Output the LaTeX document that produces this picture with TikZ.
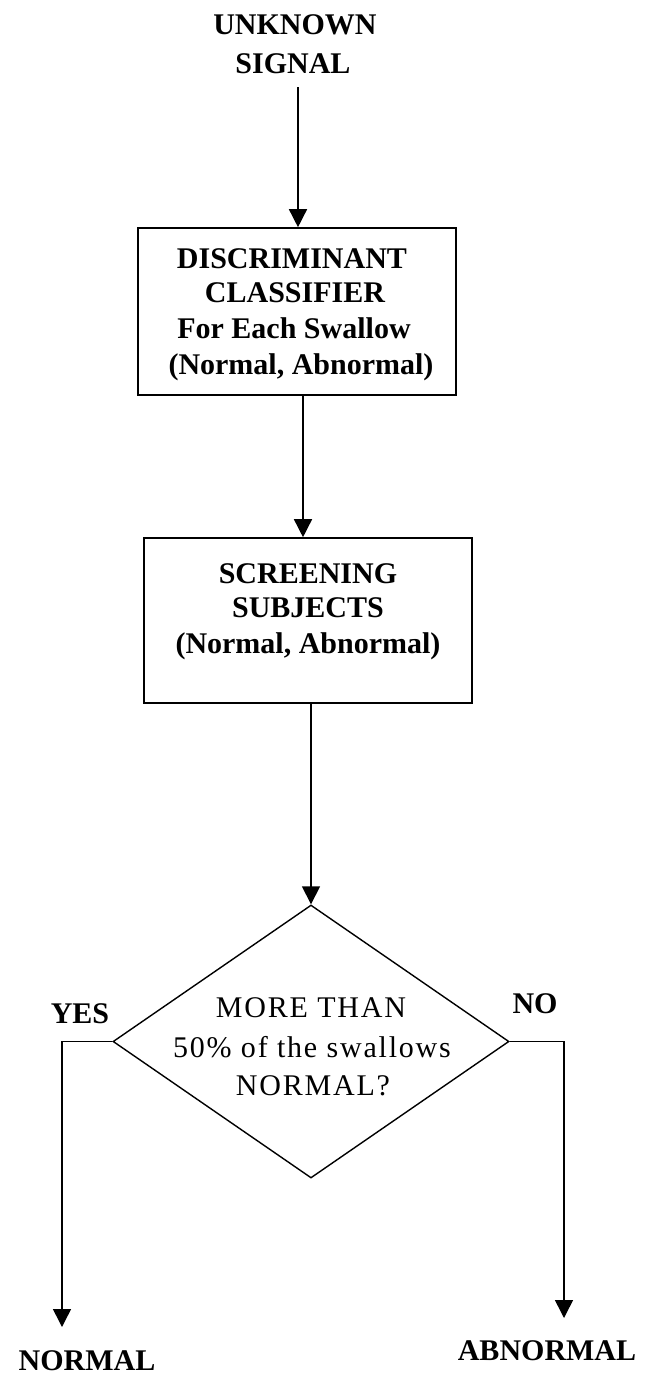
\documentclass[tikz,border=0pt]{standalone}
\usepackage{fontspec}
\setmainfont{Liberation Serif}
\usetikzlibrary{arrows.meta,shapes.geometric}
\begin{document}
\begin{tikzpicture}[x=1pt,y=-1pt,
  box/.style={draw, line width=1.6pt, rectangle, inner sep=0pt},
  bt/.style={font=\fontsize{30}{36}\selectfont\bfseries, anchor=base, inner sep=0pt},
  dt/.style={font=\fontsize{30}{36}\selectfont\addfontfeatures{LetterSpace=6}, anchor=base, inner sep=0pt},
  arr/.style={line width=1.5pt, -{Triangle[width=18pt,length=18pt]}}]
\useasboundingbox (0,0) rectangle (647,1374);
% top label
\node[bt] (t1) at (295,34) {UNKNOWN};
\node[bt] (t2) at (293,73) {SIGNAL};
\coordinate (s0) at (298,87);
% box 1
\node[box, minimum width=318pt, minimum height=167pt] (b1) at (297,311.5) {};
\node[bt] (b1l1) at (292,268) {DISCRIMINANT};
\node[bt] (b1l2) at (295,302) {CLASSIFIER};
\node[bt] (b1l3) at (294,338) {For Each Swallow};
\node[bt] (b1l4) at (301,374) {(Normal, Abnormal)};
% box 2
\node[box, minimum width=328pt, minimum height=165pt] (b2) at (308,620.5) {};
\node[bt] (b2l1) at (308,583) {SCREENING};
\node[bt] (b2l2) at (308,617) {SUBJECTS};
\node[bt] (b2l3) at (308,653) {(Normal, Abnormal)};
% diamond
\node[diamond, draw, line width=1.4pt, minimum width=396pt, minimum height=273pt, inner sep=0pt] (d) at (311,1041.5) {};
\node[dt] (dl1) at (311,1017) {MORE THAN};
\node[dt] (dl2) at (312,1057) {50\% of the swallows};
\node[dt] (dl3) at (313,1095) {NORMAL?};
\node[bt] (yes) at (80,1023) {YES};
\node[bt] (no) at (535,1013) {NO};
% outcomes
\coordinate (e1) at (62,1327);
\coordinate (e2) at (564,1318);
\node[bt] (n1) at (87,1370) {NORMAL};
\node[bt] (n2) at (547,1360) {ABNORMAL};
% connectors
\draw[arr] (s0) -- (s0 |- b1.north);
\draw[arr] ([xshift=6pt]b1.south) -- ([xshift=-5pt]b2.north);
\draw[arr] (b2.south -| d.north) -- (d.north);
\draw[arr] (d.west) -| (e1);
\draw[arr] (d.east) -| (e2);
\end{tikzpicture}
\end{document}
